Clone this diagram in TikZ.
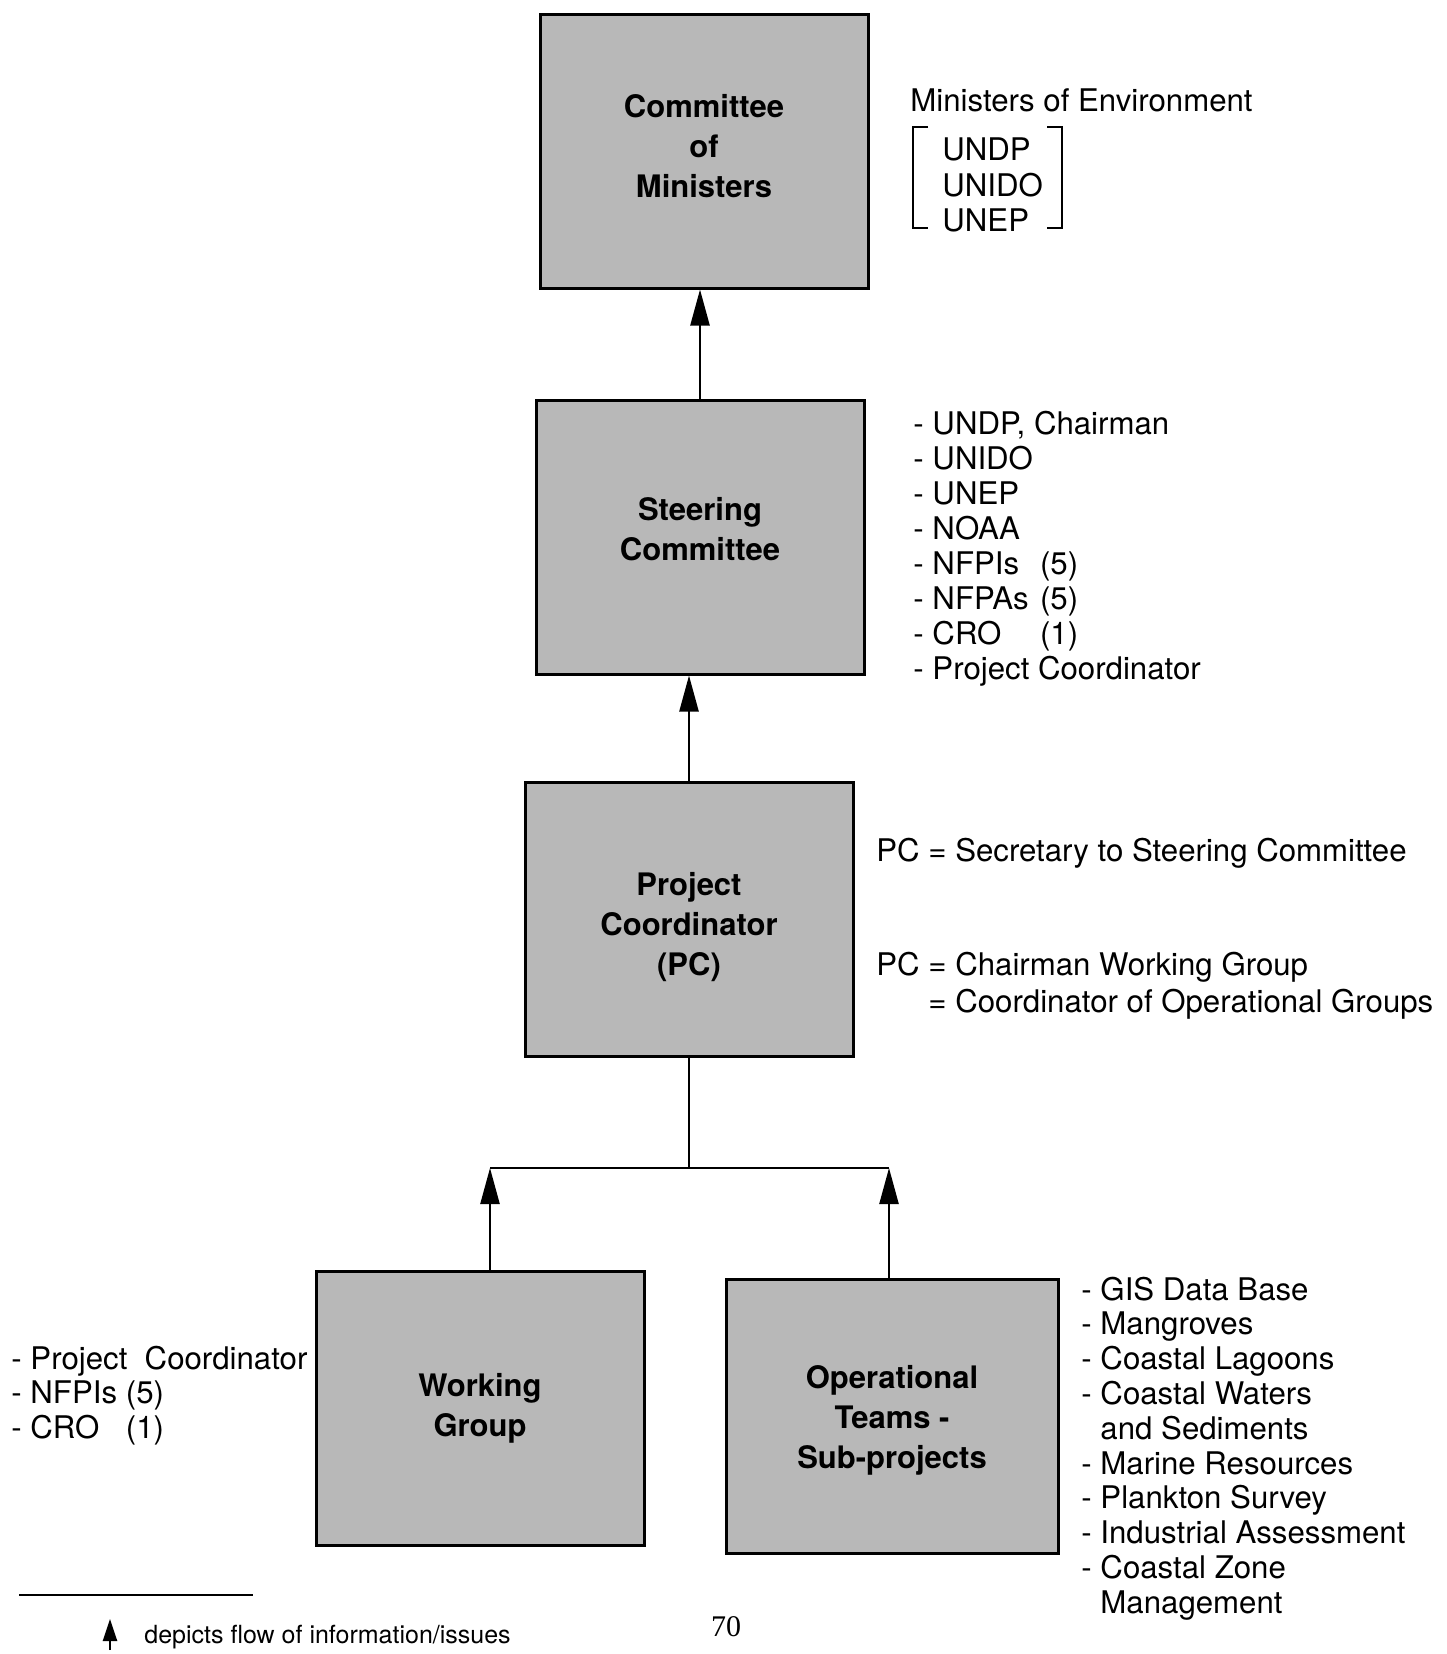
\documentclass[tikz,border=0pt]{standalone}
\usepackage{fontspec}
\setmainfont{TeX Gyre Heros}
\newfontfamily\pagefont{Liberation Serif}
\usetikzlibrary{arrows.meta,calc}
\tikzset{
  box/.style={draw, line width=1.5pt, fill=black!28, minimum width=164pt, minimum height=137pt,
    inner sep=0pt},
  boxlabel/.style={align=center, inner sep=0pt, font=\bfseries\fontsize{15.5}{20}\selectfont},
  side/.style={anchor=base west, inner sep=0pt, font=\fontsize{15.6}{18}\selectfont},
  flow/.style={line width=1.2pt, -{Triangle[length=18pt,width=9.5pt]}},
  conn/.style={line width=1.2pt},
  brk/.style={line width=1.2pt},
}
\begin{document}
\begin{tikzpicture}[x=0.5pt,y=-0.5pt]
\useasboundingbox (0,0) rectangle (1446,1654);

% boxes
\node[box] (com) at (704,151) {};
\node[box] (stc) at (700,537) {};
\node[box] (pc) at (689,919) {};
\node[box] (wg) at (480,1408) {};
\node[box, minimum width=166pt] (ot) at (892,1416) {};

\node[boxlabel] (comL) at ($(com)+(0,-5)$) {Committee\\of\\Ministers};
\node[boxlabel] (stcL) at ($(stc)+(0,-8)$) {Steering\\Committee};
\node[boxlabel] (pcL) at ($(pc)+(0,8)$) {Project\\Coordinator\\(PC)};
\node[boxlabel] (wgL) at (wg) {Working\\Group};
\node[boxlabel] (otL) at ($(ot)+(0,4)$) {Operational\\Teams -\\Sub-projects};

% connectors
\draw[flow] (stc.north) -- (stc.north |- com.south);
\draw[flow] (pc.north) -- (pc.north |- stc.south);
\coordinate (jl) at (490,1168);
\coordinate (jr) at (889,1168);
\draw[conn] (pc.south) -- (pc.south |- jl);
\draw[conn] (jl) -- (jr);
\draw[flow] (wg.north -| jl) -- (jl);
\draw[flow] (ot.north -| jr) -- (jr);

% committee of ministers side text
\node[side] (me) at (910,111) {Ministers of Environment};
\coordinate (lb1) at (928,127); \coordinate (lb2) at (913,127);
\coordinate (lb3) at (913,228); \coordinate (lb4) at (928,228);
\coordinate (rb1) at (1047,127); \coordinate (rb2) at (1062,127);
\coordinate (rb3) at (1062,228); \coordinate (rb4) at (1047,228);
\draw[brk] (lb1) -- (lb2) -- (lb3) -- (lb4);
\draw[brk] (rb1) -- (rb2) -- (rb3) -- (rb4);
\node[side] (m1) at (942,160) {UNDP};
\node[side] (m2) at (942,196) {UNIDO};
\node[side] (m3) at (942,231) {UNEP};

% steering committee list
\foreach \t [count=\i from 0] in {%
  {- UNDP, Chairman},
  {- UNIDO},
  {- UNEP},
  {- NOAA},
  {\makebox[4.06em][l]{- NFPIs}(5)},
  {\makebox[4.06em][l]{- NFPAs}(5)},
  {\makebox[4.06em][l]{- CRO}(1)},
  {- Project Coordinator}}
  \node[side] (sl\i) at (913,434+35*\i) {\t};

% project coordinator text
\node[side] (pc1) at (876,861) {PC = Secretary to Steering Committee};
\node[side] (pc2) at (876,975) {PC = Chairman Working Group};
\node[side] (pc3) at (876,1012) {\phantom{PC }= Coordinator of Operational Groups};

% working group list
\node[side] (w1) at (11,1369) {- Project\ \ Coordinator};
\node[side] (w2) at (11,1403) {\makebox[3.67em][l]{- NFPIs}(5)};
\node[side] (w3) at (11,1438) {\makebox[3.67em][l]{- CRO}(1)};

% operational teams list
\foreach \t [count=\i from 0] in {%
  {- GIS Data Base},
  {- Mangroves},
  {- Coastal Lagoons},
  {- Coastal Waters},
  {\phantom{- }and Sediments},
  {- Marine Resources},
  {- Plankton Survey},
  {- Industrial Assessment},
  {- Coastal Zone},
  {\phantom{- }Management}}
  \node[side] (ol\i) at (1081,1300+34.8*\i) {\t};

% legend
\coordinate (ll1) at (19,1595);
\coordinate (ll2) at (253,1595);
\draw[line width=1.3pt] (ll1) -- (ll2);
\coordinate (lgb) at (110,1650);
\coordinate (lgt) at (110,1619);
\draw[line width=1.2pt, -{Triangle[length=11pt,width=7pt]}] (lgb) -- (lgt);
\node[anchor=base west, inner sep=0pt, font=\fontsize{12.5}{15}\selectfont] (leg) at (144,1643) {depicts flow of information/issues};

% page number
\node[inner sep=0pt, font=\pagefont\fontsize{15}{18}\selectfont] (pg) at (726,1627) {70};
\end{tikzpicture}
\end{document}
